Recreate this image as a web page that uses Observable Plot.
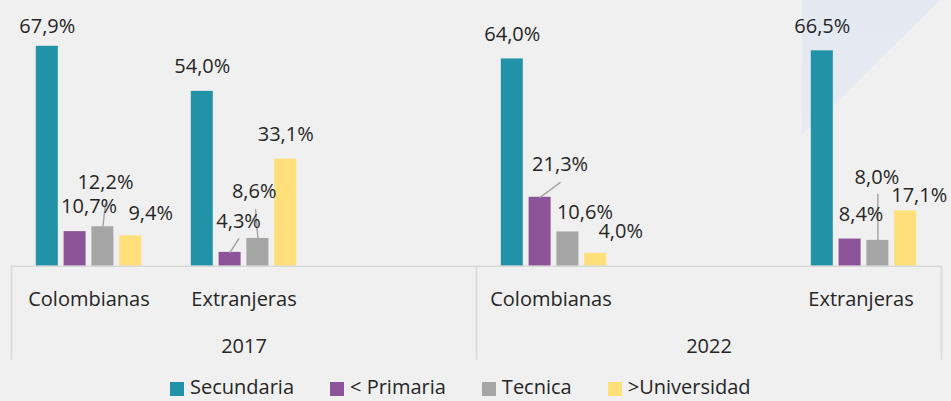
<!DOCTYPE html>
<html>
<head>
<meta charset="utf-8">
<script src="https://cdn.jsdelivr.net/npm/d3@7"></script>
<script src="https://cdn.jsdelivr.net/npm/@observablehq/plot@0.6"></script>
<style>
  body { margin: 0; background: #f0f0f0; }
  #wrap { position: relative; width: 951px; height: 401px; background: #f0f0f0; overflow: hidden;
          font-family: "Open Sans", sans-serif; color: #262626; }
  #deco { position: absolute; left: 0; top: 0; width: 951px; height: 401px;
          clip-path: polygon(802px 0, 940px 0, 832px 107px, 802px 135px);
          background: linear-gradient(#e4e8f1, #edeff3); }
  #chart { position: absolute; left: 0; top: 0; }
  #legend { position: absolute; left: 170px; top: 376px; display: flex; gap: 36px;
            font-size: 20px; line-height: 22px; white-space: nowrap; }
  .item { display: flex; align-items: flex-start; }
  .sw { width: 14px; height: 14px; margin-top: 6px; margin-right: 6px; }
</style>
</head>
<body>
<div id="wrap"><div id="deco"></div><div id="chart"></div><div id="legend"></div></div>
<script>
// ---- data ----
const years = ["2017", "2022"];
const groups = ["Colombianas", "Extranjeras", "Colombianas", "Extranjeras"];
const groupYears = ["2017", "2017", "2022", "2022"];
const levels = ["Secundaria", "< Primaria", "Tecnica", ">Universidad"];
const secundaria = [67.9, 54.0, 64.0, 66.5];
const primaria = [10.7, 4.3, 21.3, 8.4];
const tecnica = [12.2, 8.6, 10.6, 8.0];
const universidad = [9.4, 33.1, 4.0, 17.1];
const colors = ["#2192a8", "#8c5399", "#a5a5a5", "#ffdf7a"];

// ---- layout (Excel category axis with blank categories) ----
const slotIndex = [0, 1, 3, 5];           // slot of each group on a 6-slot axis
const yearSlots = [[0, 3], [3, 6]];       // slot span of each year
const BAR_STEP = 27.8 / 155, BAR_W = 22 / 155;
// label nudges [dx, dy] per group/level (Excel hand-moved labels)
const nudges = [
  [[0, 5], [14, -1], [2.5, -20], [20, 2]],
  [[0, 0], [8.5, -6], [-3.7, -22], [0, 0]],
  [[0, 0], [20, -8], [17, 5], [25, 3]],
  [[0, 0], [11, 0], [-1, -38], [13.5, 9]]
];
// leader lines: group, level, end offset [ex, ey] in px from bar top
const leaders = [
  [0, 2, 2.6, -23.4],
  [1, 1, 8.7, -13.6],
  [1, 2, -2.4, -29],
  [2, 1, 20, -14.7],
  [3, 2, 0, -46]
];
const catNudge = [0, 0, -3, -3];

const series = [secundaria, primaria, tecnica, universidad];
const fmt = v => v.toFixed(1).replace(".", ",") + "%";

const rows = [];
groups.forEach((g, gi) => {
  levels.forEach((lv, li) => {
    const xc = slotIndex[gi] + 0.5 + (li - 1.5) * BAR_STEP;
    rows.push({gi, li, group: g, year: groupYears[gi], level: lv, value: series[li][gi],
               xc, x1: xc - BAR_W / 2, x2: xc + BAR_W / 2, label: fmt(series[li][gi])});
  });
});

const catRows = groups.map((g, gi) => ({x: slotIndex[gi] + 0.5, text: g, gi}));
const yearRows = years.map((y, i) => ({x: (yearSlots[i][0] + yearSlots[i][1]) / 2, text: y}));
const leaderShape = {draw(context, l) { context.moveTo(0, 0); context.lineTo(0, -l); }};

const CAT_Y = -12.1, YEAR_Y = -26.7, SEP_BOTTOM = -29;
const axisColor = "#d9d9d9";

const marks = [
  Plot.rectY(rows, {x1: "x1", x2: "x2", y1: 0, y2: "value", fill: "level"}),
  Plot.ruleY([0], {x1: 0, x2: 6, stroke: axisColor, strokeWidth: 1.6}),
  Plot.ruleX([0, 3, 6], {x: d => d, y1: 0, y2: SEP_BOTTOM, stroke: axisColor, strokeWidth: 1.6}),
  ...leaders.map(([gi, li, ex, ey]) => {
    const r = rows.find(d => d.gi === gi && d.li === li);
    return Plot.vector([r], {x: "xc", y: "value", anchor: "start",
      length: Math.hypot(ex, ey), rotate: Math.atan2(ex, -ey) * 180 / Math.PI,
      shape: leaderShape, stroke: "#a6a6a6", strokeWidth: 1.5});
  }),
  ...rows.map(r => Plot.text([r], {x: "xc", y: "value", text: "label", lineAnchor: "bottom",
      dx: nudges[r.gi][r.li][0], dy: -18 + nudges[r.gi][r.li][1], fontSize: 20})),
  ...catRows.map(c => Plot.text([c], {x: "x", y: () => CAT_Y, text: "text", lineAnchor: "bottom",
      dx: catNudge[c.gi], fontSize: 20})),
  Plot.text(yearRows, {x: "x", y: () => YEAR_Y, text: "text", lineAnchor: "bottom", fontSize: 20})
];

const plot = Plot.plot({
  width: 951, height: 370,
  marginLeft: 11, marginRight: 10, marginTop: 39, marginBottom: 7,
  x: {domain: [0, 6], axis: null},
  y: {domain: [-30, 70], axis: null},
  color: {domain: levels, range: colors},
  style: {background: "transparent", fontFamily: "Open Sans", fontSize: "20px", color: "#262626", overflow: "visible"},
  marks
});
document.getElementById("chart").appendChild(plot);

const legend = document.getElementById("legend");
levels.forEach((lv, i) => {
  const item = document.createElement("div");
  item.className = "item";
  const sw = document.createElement("div");
  sw.className = "sw";
  sw.style.background = colors[i];
  const t = document.createElement("span");
  t.textContent = lv;
  item.appendChild(sw); item.appendChild(t);
  legend.appendChild(item);
});
</script>
</body>
</html>
